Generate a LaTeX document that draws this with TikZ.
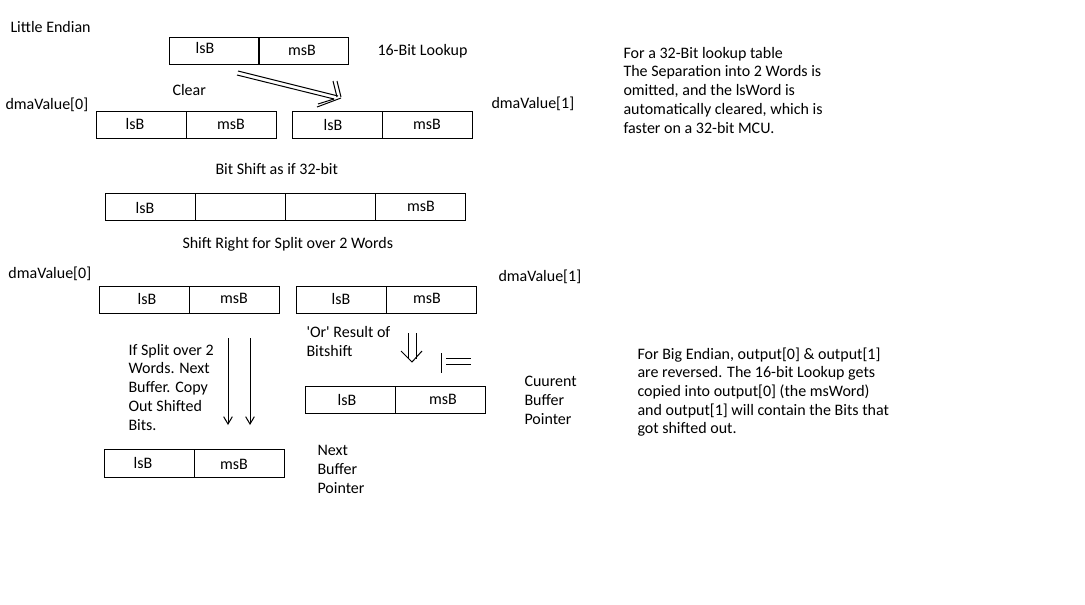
\documentclass[tikz,border=0pt]{standalone}
\usepackage{fontspec}
\setmainfont{Carlito}
\newfontfamily\rawcal{Carlito}
\usetikzlibrary{arrows.meta}
\begin{document}
\begin{tikzpicture}[x=0.75pt,y=-0.75pt,
  line width=0.75pt,
  every node/.style={font=\rawcal\fontsize{12}{14.5}\selectfont, inner sep=0pt},
  cell/.style={draw, line width=0.75pt, minimum width=67.5pt, minimum height=20.25pt, anchor=north west},
  txt/.style={anchor=base west},
  lbl/.style={anchor=center},
  darrow/.style={-{Straight Barb[length=5.5pt,width=6.5pt,line width=0.75pt]}}
]
\useasboundingbox[fill=white] (0,0) rectangle (1085,604);

% headers
\node[txt] (title) at (10,32) {Little Endian};
\node[txt] (lookup) at (377,55) {16-Bit Lookup};
\node[txt] (clear) at (172,95) {Clear};
\node[txt] (dmaA0) at (5,109) {dmaValue[0]};
\node[txt] (dmaA1) at (491,108) {dmaValue[1]};
\node[txt] (bitshift) at (215,174) {Bit Shift as if 32-bit};
\node[txt] (shiftright) at (182,248) {Shift Right for Split over 2 Words};
\node[txt] (dmaB0) at (8,278) {dmaValue[0]};
\node[txt] (dmaB1) at (498,281) {dmaValue[1]};

% top lookup box
\node[cell] (t1) at (169,37) {};
\node[cell] (t2) at (258,37) {};
\node[lbl] (t1l) at (205,48) {lsB};
\node[lbl] (t2l) at (302,50) {msB};

% dmaValue row 1
\node[cell] (a1) at (96,111) {};
\node[cell] (a2) at (186,111) {};
\node[lbl] (a1l) at (135,124) {lsB};
\node[lbl] (a2l) at (231,124) {msB};
\node[cell] (b1) at (292,111) {};
\node[cell] (b2) at (382,111) {};
\node[lbl] (b1l) at (333,125) {lsB};
\node[lbl] (b2l) at (427,124) {msB};

% 32-bit box
\node[cell] (c1) at (105,193) {};
\node[cell] (c2) at (195,193) {};
\node[cell] (c3) at (285,193) {};
\node[cell] (c4) at (375,193) {};
\node[lbl] (c1l) at (145,208) {lsB};
\node[lbl] (c4l) at (421,206) {msB};

% dmaValue row 2
\node[cell] (d1) at (99,286) {};
\node[cell] (d2) at (189,286) {};
\node[lbl] (d1l) at (147,299) {lsB};
\node[lbl] (d2l) at (234,298) {msB};
\node[cell] (e1) at (296,286) {};
\node[cell] (e2) at (386,286) {};
\node[lbl] (e1l) at (341,299) {lsB};
\node[lbl] (e2l) at (427,298) {msB};

% result box
\node[cell] (f1) at (305,386) {};
\node[cell] (f2) at (395,386) {};
\node[lbl] (f1l) at (347,400) {lsB};
\node[lbl] (f2l) at (443,399) {msB};

% next buffer box
\node[cell, minimum height=21pt] (g1) at (104,449) {};
\node[cell, minimum height=21pt] (g2) at (194,449) {};
\node[lbl] (g1l) at (143,463) {lsB};
\node[lbl] (g2l) at (234,464) {msB};

% text blocks
\foreach \t [count=\i from 0] in {For a 32-Bit lookup table,The Separation into 2 Words is,{omitted, and the lsWord is},{automatically cleared, which is},faster on a 32-bit MCU.}
  \node[txt] (r\i) at (623,58+18.8*\i) {\t};
\foreach \t [count=\i from 0] in {{For Big Endian, output[0] \& output[1]},are reversed. The 16-bit Lookup gets,copied into output[0] (the msWord),and output[1] will contain the Bits that,got shifted out.}
  \node[txt] (be\i) at (637,359+18.7*\i) {\t};
\foreach \t [count=\i from 0] in {If Split over 2,Words. Next,Buffer. Copy,Out Shifted,Bits.}
  \node[txt] (sp\i) at (128,355+18.8*\i) {\t};
\foreach \t [count=\i from 0] in {'Or' Result of,Bitshift}
  \node[txt] (or\i) at (306,337+19*\i) {\t};
\foreach \t [count=\i from 0] in {Cuurent,Buffer,Pointer}
  \node[txt] (cb\i) at (524,386+19*\i) {\t};
\foreach \t [count=\i from 0] in {Next,Buffer,Pointer}
  \node[txt] (nb\i) at (317,455+19*\i) {\t};

% hand-drawn double arrow (top)
\coordinate (hA1) at (238,71);
\coordinate (hB1) at (338,96);
\coordinate (hA2) at (237,75);
\coordinate (hB2) at (334,99);
\draw (hA1) -- (hB1);
\draw (hA2) -- (hB2);
\draw (333,81) -- (337,97);
\draw (337,81) -- (341,97);
\draw (317,107) -- (341,98);
\draw (318,104) -- (334,99);

% down arrows (split)
\coordinate (s1a) at (228,338);
\coordinate (s1b) at (228,425);
\coordinate (s2a) at (250,338);
\coordinate (s2b) at (250,425);
\draw[darrow] (s1a) -- (s1b);
\draw[darrow] (s2a) -- (s2b);

% double down arrow (or)
\draw (408,333) -- (408,359);
\draw (416,333) -- (416,359);
\draw (401,351) -- (412,362) -- (422,351);

% |== symbol
\draw (441.5,353) -- (441.5,373);
\draw (446,358) -- (471,358);
\draw (446,364) -- (471,364);
\end{tikzpicture}
\end{document}
